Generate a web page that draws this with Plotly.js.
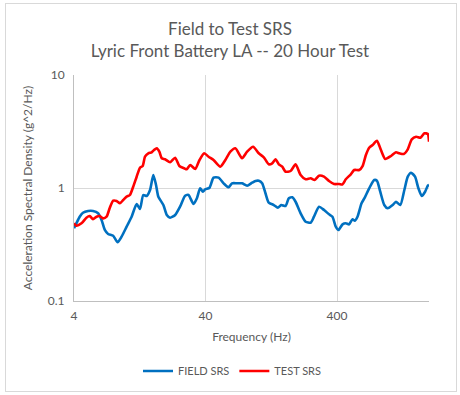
<!DOCTYPE html>
<html>
<head>
<meta charset="utf-8">
<script src="https://cdn.plot.ly/plotly-3.0.1.min.js"></script>
<style>
  html, body { margin: 0; padding: 0; background: #ffffff; }
  #wrap { position: relative; width: 460px; height: 395px; }
  #chart { position: absolute; left: 0; top: 0; width: 460px; height: 395px; }
  #frame { position: absolute; left: 5px; top: 3px; width: 450px; height: 387px;
           border: 1px solid #d9d9d9; pointer-events: none; }
</style>
</head>
<body>
<div id="wrap"><div id="chart"></div><div id="frame"></div></div>
<script>
// Field SRS (blue)
const fieldFreq = [4, 4.17, 4.42, 4.68, 5.12, 5.58, 6.10, 6.48, 6.86, 7.27,
  7.94, 8.58, 9.20, 10.05, 10.97, 11.98, 12.70, 13.45, 14.28, 15.14,
  16.04, 16.82, 17.51, 19.12, 20.3, 21.5, 23.5, 25.6, 28.0, 29.7,
  32.4, 34.4, 36.4, 38.2, 39.8, 42.9, 46.0, 50.3, 54.9, 59.9,
  63.6, 69.5, 75.8, 82.8, 90.4, 95.8, 101.6, 107.8, 114.2, 121.0,
  132.2, 141.8, 150.5, 162.4, 172.0, 182.6, 193.5, 211.4, 230.8, 252,
  267, 291.5, 318.3, 347.5, 369, 391, 410, 440, 466, 494,
  524, 546, 572, 614, 651, 702, 766, 804, 852, 914,
  970, 1059, 1122, 1211, 1299, 1379, 1461, 1567, 1661, 1763,
  1868, 1959, 2000];
const fieldAsd = [0.440, 0.487, 0.557, 0.604, 0.626, 0.626, 0.597, 0.521, 0.425, 0.392,
  0.378, 0.331, 0.371, 0.455, 0.557, 0.722, 0.652, 0.867, 0.850, 0.960,
  1.303, 1.063, 0.838, 0.707, 0.577, 0.546, 0.577, 0.683, 0.855, 0.867,
  0.722, 0.811, 0.994, 0.927, 0.974, 1.006, 1.234, 1.234, 1.100, 1.014,
  1.100, 1.100, 1.100, 1.048, 1.114, 1.153, 1.160, 1.100, 0.898, 0.741,
  0.707, 0.669, 0.707, 0.693, 0.811, 0.827, 0.756, 0.597, 0.503, 0.493,
  0.557, 0.683, 0.639, 0.585, 0.557, 0.455, 0.425, 0.477, 0.487, 0.477,
  0.529, 0.514, 0.557, 0.732, 0.827, 0.994, 1.177, 1.160, 0.927, 0.707,
  0.661, 0.707, 0.756, 0.707, 0.960, 1.259, 1.366, 1.259, 0.994, 0.850,
  0.927, 1.048, 1.063];

// Test SRS (red)
const testFreq = [4, 4.17, 4.56, 4.97, 5.27, 5.58, 5.93, 6.28, 6.66, 7.07,
  7.49, 7.94, 8.43, 8.93, 9.46, 10.05, 10.64, 11.28, 11.98, 12.70,
  13.31, 13.86, 14.69, 15.59, 16.24, 17.02, 17.82, 18.59, 19.7, 21.5,
  23.5, 25.3, 27.5, 28.8, 30.6, 33.4, 36.0, 39.1, 42.2, 46.0,
  51.8, 56.6, 61.8, 67.4, 75.8, 82.8, 92.0, 101.6, 110.9, 121.0,
  128.5, 136.2, 144.3, 153.2, 162.4, 177.3, 193.5, 211.4, 230.8, 252,
  270.3, 291.5, 318.3, 347.5, 379.5, 414.4, 440, 466, 508.9, 539.5,
  588.9, 625.3, 662.5, 702, 745.3, 804, 862.4, 930, 1028, 1122,
  1190, 1285, 1379, 1479, 1596, 1720, 1846, 1959, 2000];
const testAsd = [0.487, 0.464, 0.487, 0.546, 0.565, 0.529, 0.557, 0.565, 0.539, 0.557,
  0.669, 0.772, 0.767, 0.732, 0.783, 0.838, 0.867, 1.027, 1.259, 1.512,
  1.565, 1.892, 2.028, 2.070, 2.169, 2.245, 2.095, 1.832, 1.795, 1.688,
  1.855, 1.565, 1.494, 1.464, 1.598, 1.473, 1.769, 2.028, 1.892, 1.769,
  1.543, 1.769, 2.095, 2.245, 1.832, 2.095, 2.321, 2.028, 1.869, 1.621,
  1.654, 1.795, 1.621, 1.543, 1.394, 1.414, 1.621, 1.303, 1.194, 1.218,
  1.177, 1.285, 1.259, 1.153, 1.085, 1.085, 1.078, 1.194, 1.322, 1.443,
  1.443, 1.565, 1.959, 2.274, 2.402, 2.622, 2.169, 1.806, 1.920, 2.070,
  2.028, 2.000, 2.200, 2.698, 2.844, 2.787, 3.049, 3.005, 2.569];

const xTickVals = [4, 40, 400];
const xTickText = ['4', '40', '400'];
const yTickVals = [0.1, 1, 10];
const yTickText = ['0.1', '1', '10'];

const FONT = 'Lato, "Open Sans", sans-serif';
const TXT = '#595959';

const traces = [
  { x: fieldFreq, y: fieldAsd, type: 'scatter', mode: 'lines', name: 'FIELD SRS',
    line: { color: '#0070C0', width: 2.6, shape: 'spline', smoothing: 0.6 } },
  { x: testFreq, y: testAsd, type: 'scatter', mode: 'lines', name: 'TEST SRS',
    line: { color: '#FF0000', width: 2.6, shape: 'spline', smoothing: 0.6 } }
];

const layout = {
  width: 460, height: 395,
  paper_bgcolor: '#ffffff', plot_bgcolor: '#ffffff',
  margin: { l: 74, r: 30.5, t: 75, b: 94 },
  font: { family: FONT, color: TXT, size: 12 },
  title: {
    text: 'Field to Test SRS<br>Lyric Front Battery LA -- 20 Hour Test',
    font: { family: FONT, size: 17, color: TXT },
    x: 0.5, xref: 'container', xanchor: 'center',
    y: 1 - 35 / 395, yref: 'container', yanchor: 'middle'
  },
  xaxis: {
    type: 'log', range: [Math.log10(4), Math.log10(2000)],
    tickvals: xTickVals, ticktext: xTickText,
    showgrid: true, gridcolor: '#d9d9d9', gridwidth: 1,
    showline: true, linecolor: '#bfbfbf', linewidth: 1,
    ticks: '', zeroline: false, ticklabelstandoff: 4,
    tickfont: { family: FONT, size: 12, color: TXT },
    title: { text: 'Frequency (Hz)', font: { family: FONT, size: 12, color: TXT }, standoff: 10 }
  },
  yaxis: {
    type: 'log', range: [-1, 1],
    tickvals: yTickVals, ticktext: yTickText,
    showgrid: true, gridcolor: '#d9d9d9', gridwidth: 1,
    showline: true, linecolor: '#bfbfbf', linewidth: 1,
    ticks: '', zeroline: false, ticklabelstandoff: 6,
    tickfont: { family: FONT, size: 12, color: TXT },
    title: { text: 'Acceleration Spectral Density (g^2/Hz)', font: { family: FONT, size: 12, color: TXT }, standoff: 12 }
  },
  showlegend: true,
  legend: {
    orientation: 'h', x: 232 / 460, xref: 'container', xanchor: 'center',
    y: 1 - 371 / 395, yref: 'container', yanchor: 'middle',
    font: { family: FONT, size: 11, color: TXT },
    itemwidth: 30, tracegroupgap: 0
  }
};

Plotly.newPlot('chart', traces, layout, { displayModeBar: false, staticPlot: true });
</script>
</body>
</html>
